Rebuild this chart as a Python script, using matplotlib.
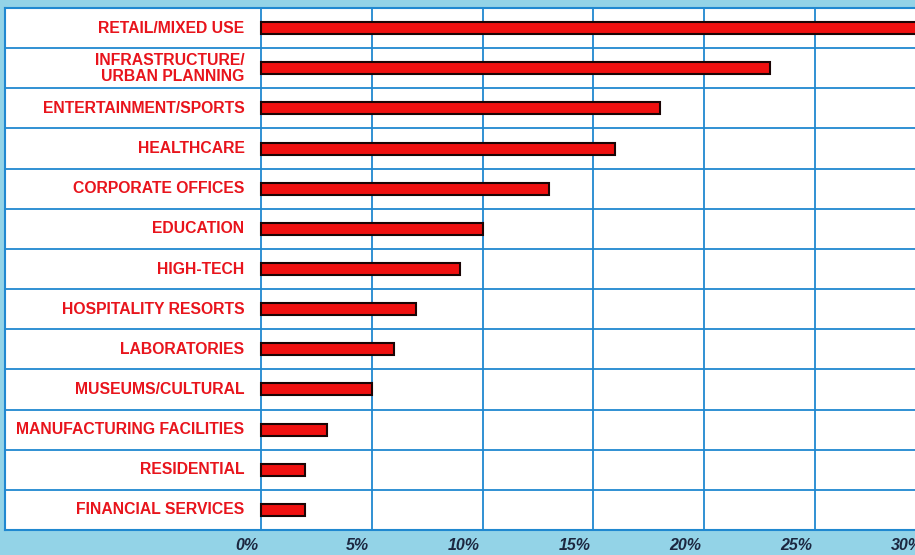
import matplotlib
matplotlib.use("Agg")
import matplotlib.pyplot as plt
from matplotlib.transforms import blended_transform_factory

categories = [
    "RETAIL/MIXED USE",
    "INFRASTRUCTURE/\nURBAN PLANNING",
    "ENTERTAINMENT/SPORTS",
    "HEALTHCARE",
    "CORPORATE OFFICES",
    "EDUCATION",
    "HIGH-TECH",
    "HOSPITALITY RESORTS",
    "LABORATORIES",
    "MUSEUMS/CULTURAL",
    "MANUFACTURING FACILITIES",
    "RESIDENTIAL",
    "FINANCIAL SERVICES",
]
values = [30, 23, 18, 16, 13, 10, 9, 7, 6, 5, 3, 2, 2]
tick_values = [0, 5, 10, 15, 20, 25, 30]
tick_labels = ["0%", "5%", "10%", "15%", "20%", "25%", "30%"]

BG = "#93d3e7"
GRID = "#2088d0"
RED = "#f01010"
LABEL_RED = "#e8141c"
TICK_COL = "#1c2740"

fig = plt.figure(figsize=(9.15, 5.55), dpi=100, facecolor=BG)
ax = fig.add_axes([5 / 915, 25 / 555, 1.0, 522 / 555])
ax.set_facecolor("white")

px_per_unit = 22.15
left_data = (5 - 261) / px_per_unit
right_data = left_data + 915 / px_per_unit
ax.set_xlim(left_data, right_data)
ax.set_ylim(len(categories) - 0.5, -0.5)

ys = list(range(len(categories)))
ax.barh(ys, values, height=0.3, left=0, color=RED, edgecolor="#1a0505",
        linewidth=1.5, zorder=3)

# vertical grid lines
for t in tick_values:
    ax.axvline(t, color=GRID, lw=1.3, zorder=2)
# horizontal row separators
for k in range(len(categories) - 1):
    ax.axhline(k + 0.5, color=GRID, lw=1.3, zorder=2)

for s in ["top", "bottom", "left"]:
    ax.spines[s].set_color(GRID)
    ax.spines[s].set_linewidth(1.5)
ax.spines["right"].set_visible(False)
ax.set_xticks([])
ax.set_yticks([])

# category labels
for y, lab in zip(ys, categories):
    ax.text(-0.75, y, lab, ha="right", va="center", color=LABEL_RED,
            fontsize=11.3, fontweight="bold", family=["Liberation Sans", "DejaVu Sans"],
            linespacing=1.05, zorder=4)

# x tick labels
trans = blended_transform_factory(ax.transData, ax.transAxes)
for t, lab in zip(tick_values, tick_labels):
    ax.text(t - 0.12, -0.029, lab, transform=trans, ha="right", va="center",
            color=TICK_COL, fontsize=11.5, fontweight="bold", fontstyle="italic",
            family=["Liberation Sans", "DejaVu Sans"], clip_on=False)

fig.savefig("out.png", dpi=100, facecolor=BG)
